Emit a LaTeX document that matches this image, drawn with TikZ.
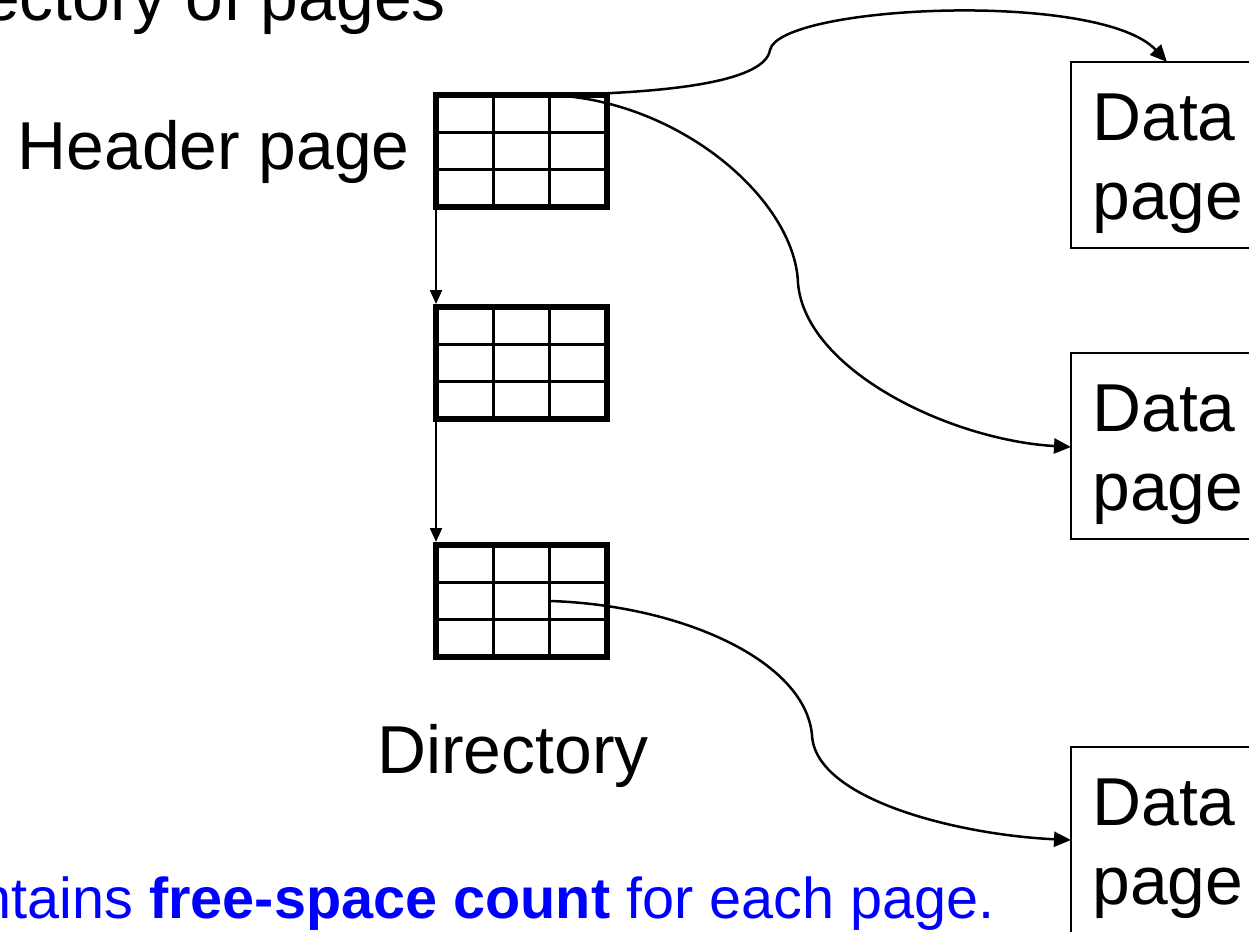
\documentclass[tikz,border=0pt]{standalone}
\usepackage{fontspec}
\setmainfont{Liberation Sans}
\usetikzlibrary{calc,positioning,arrows.meta}

\begin{document}
\begin{tikzpicture}[x=0.02cm, y=-0.02cm, >={Triangle[length=3.4mm,width=3mm]},
   every node/.style={font=\fontsize{38.6}{41.5}\selectfont},
   dirpage/.style={rectangle, draw, line width=0.12cm, outer sep=0pt, inner sep=0pt,
      minimum width=3.42cm, minimum height=2.24cm},
   cell/.style={line width=0.06cm},
   datapage/.style={rectangle, draw, line width=0.04cm, outer sep=0pt, anchor=north west,
      minimum width=5cm, minimum height=3.72cm},
   datatext/.style={anchor=north west, inner sep=0pt, align=left,
      font=\fontsize{38.6}{45.5}\selectfont},
   link/.style={->, line width=0.05cm},
   down/.style={-{Triangle[length=2.8mm,width=2.4mm]}, line width=0.045cm, shorten >=0.06cm}]

  \useasboundingbox (0,0) rectangle (1249,931);
  \clip (0,0) rectangle (1249,931);

  \node [anchor=base east] (title) at (452,20) {ectory of pages};

  \node [dirpage] (hdr) at (521.5,151) {};
  \node [dirpage] (dir1) at (521.5,363) {};
  \node [dirpage] (dir2) at (521.5,601) {};
  \foreach \p in {hdr,dir1,dir2} {
    \draw [cell] ($(\p.north west)!1/3!(\p.north east)$) -- ($(\p.south west)!1/3!(\p.south east)$);
    \draw [cell] ($(\p.north west)!2/3!(\p.north east)$) -- ($(\p.south west)!2/3!(\p.south east)$);
    \draw [cell] ($(\p.north west)!1/3!(\p.south west)$) -- ($(\p.north east)!1/3!(\p.south east)$);
    \draw [cell] ($(\p.north west)!2/3!(\p.south west)$) -- ($(\p.north east)!2/3!(\p.south east)$);
  }

  \node [anchor=base east] (hdrtext) at (416,169) {Header page};
  \node [anchor=base] (dirtext) at (513,773) {Directory};

  \node [datapage] (dpA) at (1071,62) {};
  \node [datapage] (dpB) at (1071,353) {};
  \node [datapage] (dpC) at (1071,747) {};
  \foreach \d in {dpA,dpB,dpC}
    \node [datatext] (\d text) at ($(\d.north west)+(21,31)$) {Data\\page};

  \draw [down] (hdr.south west) -- (dir1.north west);
  \draw [down] (dir1.south west) -- (dir2.north west);

  \coordinate (hdrout) at ($(hdr.north west)!2/3!(hdr.north east)$);
  \draw [link] (hdrout) .. controls (680,93) and (765,80) .. (770,50)
     .. controls (780,5) and (1100,-10) .. ($(dpA.north west)+(96,0)$);
  \draw [link] (hdrout) .. controls (680,100) and (795,200) .. (798,283)
     .. controls (805,370) and (950,440) .. ($(dpB.north west)+(0,94)$);
  \draw [link] ($(dir2.west)!2/3!(dir2.east)$) .. controls (680,605) and (805,660) .. (812,735)
     .. controls (815,800) and (960,835) .. ($(dpC.north west)+(0,93)$);

  \node [anchor=base east, text=blue, font=\fontsize{32.8}{38}\selectfont] (note) at (1001,918)
     {ntains \textbf{free-space count} for each page.};
\end{tikzpicture}
\end{document}
